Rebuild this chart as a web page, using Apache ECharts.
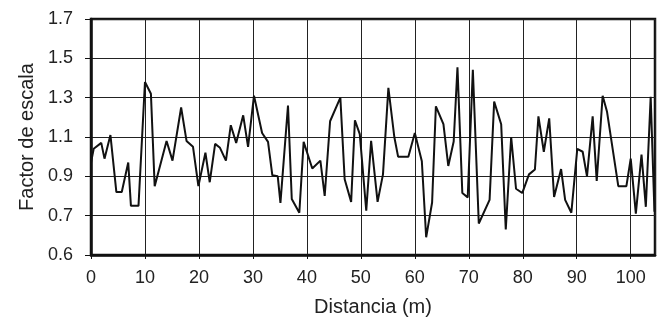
<!DOCTYPE html>
<html>
<head>
<meta charset="utf-8">
<script src="https://cdn.jsdelivr.net/npm/echarts@6/dist/echarts.min.js"></script>
<style>
html,body{margin:0;padding:0;background:#fff;}
#chart{width:660px;height:322px;}
</style>
</head>
<body>
<div id="chart"></div>
<script>
// Distance (m)
var distancia = [0, 0.5, 1.9, 2.5, 3.6, 4.7, 5.7, 6.9, 7.4, 8.8,
  10.0, 11.1, 11.8, 14.0, 15.1, 16.7, 17.7, 18.9, 19.9, 21.2,
  22.0, 23.0, 23.9, 25.0, 25.9, 26.9, 28.2, 29.1, 30.2, 31.7,
  32.8, 33.6, 34.6, 35.1, 36.5, 37.2, 38.6, 39.4, 41.0, 42.5,
  43.3, 44.3, 46.2, 47.0, 48.2, 48.9, 49.8, 51.0, 51.9, 53.1,
  54.1, 55.1, 56.2, 56.9, 58.8, 60.0, 61.3, 62.1, 63.2, 63.9,
  65.3, 66.2, 67.2, 67.9, 68.8, 69.8, 70.75, 71.85, 73.85, 74.7,
  76.0, 76.85, 77.85, 78.75, 79.9, 81.15, 82.25, 82.9, 83.9, 84.9,
  85.8, 87.1, 87.85, 89.0, 90.1, 91.1, 91.9, 92.95, 93.7, 94.8,
  95.6, 97.7, 99.2, 100.0, 100.95, 102.0, 102.8, 103.7, 104.4];
// Scale factor
var factor = [0.97, 1.04, 1.07, 0.99, 1.11, 0.82, 0.82, 0.97, 0.75, 0.75,
  1.38, 1.32, 0.85, 1.08, 0.98, 1.25, 1.08, 1.05, 0.85, 1.02,
  0.87, 1.065, 1.045, 0.98, 1.16, 1.07, 1.21, 1.05, 1.31, 1.12,
  1.075, 0.905, 0.90, 0.765, 1.26, 0.785, 0.715, 1.075, 0.94, 0.98,
  0.80, 1.18, 1.30, 0.885, 0.77, 1.185, 1.115, 0.725, 1.08, 0.77,
  0.91, 1.35, 1.10, 1.0, 1.0, 1.12, 0.977, 0.59, 0.767, 1.256,
  1.165, 0.953, 1.077, 1.455, 0.815, 0.793, 1.442, 0.66, 0.78, 1.28,
  1.165, 0.63, 1.10, 0.837, 0.815, 0.91, 0.935, 1.205, 1.025, 1.195,
  0.795, 0.937, 0.78, 0.715, 1.04, 1.025, 0.90, 1.205, 0.877, 1.31,
  1.23, 0.85, 0.85, 0.99, 0.71, 1.01, 0.745, 1.305, 0.72];
// Tick labels as printed in the reference
var yTickLabels = ['0.6', '0.7', '0.9', '1.1', '1.3', '1.5', '1.7'];
var xTickLabels = ['0', '10', '20', '30', '40', '50', '60', '70', '80', '90', '100'];

var points = distancia.map(function (d, i) { return [d, factor[i]]; });

var chart = echarts.init(document.getElementById('chart'), null, {renderer: 'canvas'});
var font = 'Liberation Sans, Arial, Helvetica, sans-serif';
chart.setOption({
  animation: false,
  backgroundColor: '#ffffff',
  grid: {
    left: 91, right: 5, top: 19, bottom: 67,
    show: true, borderColor: '#111', borderWidth: 2.5, backgroundColor: 'transparent'
  },
  xAxis: {
    type: 'value', min: 0, max: 104.5, interval: 10,
    name: 'Distancia (m)', nameLocation: 'middle', nameGap: 42,
    nameTextStyle: {fontFamily: font, fontSize: 20, color: '#222'},
    axisLine: {show: true, lineStyle: {color: '#111', width: 2.5}},
    axisTick: {show: true, length: 4, lineStyle: {color: '#111', width: 1}},
    axisLabel: {
      margin: 14, fontFamily: font, fontSize: 18, color: '#222',
      showMaxLabel: false,
      formatter: function (v) {
        var k = Math.round(v / 10);
        return Math.abs(v - k * 10) < 1e-6 && xTickLabels[k] !== undefined ? xTickLabels[k] : '';
      }
    },
    splitLine: {show: true, lineStyle: {color: '#222', width: 1}}
  },
  yAxis: {
    type: 'value', min: 0.5, max: 1.7, interval: 0.2,
    name: 'Factor de escala', nameLocation: 'middle', nameGap: 54,
    nameTextStyle: {fontFamily: font, fontSize: 20, color: '#222'},
    axisLine: {show: true, lineStyle: {color: '#111', width: 2.5}},
    axisTick: {show: true, length: 6, lineStyle: {color: '#111', width: 1}},
    axisLabel: {
      margin: 18, fontFamily: font, fontSize: 18, color: '#222',
      formatter: function (v, idx) {
        var k = Math.round((v - 0.5) / 0.2);
        return yTickLabels[k] !== undefined ? yTickLabels[k] : '';
      }
    },
    splitLine: {show: true, lineStyle: {color: '#222', width: 1}}
  },
  series: [{
    type: 'line',
    data: points,
    showSymbol: false,
    symbol: 'none',
    lineStyle: {color: '#111', width: 2},
    clip: true
  }]
});
</script>
</body>
</html>
